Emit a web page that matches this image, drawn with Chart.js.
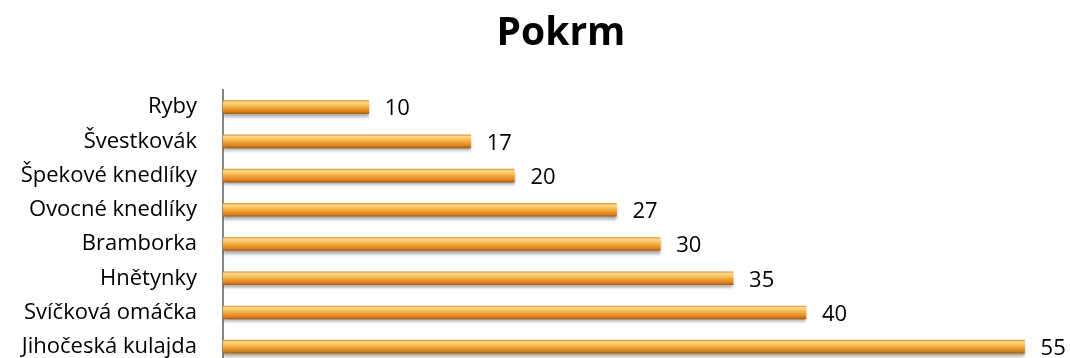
<!DOCTYPE html>
<html>
<head>
<meta charset="utf-8">
<script src="https://cdn.jsdelivr.net/npm/chart.js@4/dist/chart.umd.min.js"></script>
<style>
  html, body { margin: 0; padding: 0; background: #fff; overflow: hidden; }
  canvas { display: block; }
</style>
</head>
<body>
<!-- taller than the window: the y scale keeps half a label + tick padding free below the last bar -->
<canvas id="pokrm-chart" width="1070" height="403"></canvas>
<script>
const categories = ["Ryby", "Švestkovák", "Špekové knedlíky", "Ovocné knedlíky",
  "Bramborka", "Hnětynky", "Svíčková omáčka", "Jihočeská kulajda"];
const counts = [10, 17, 20, 27, 30, 35, 40, 55];
const chartTitle = "Pokrm";

const FONT = "'Open Sans', 'DejaVu Sans', sans-serif";
const BAR_H = 13;

// orange tube look: light band near the top, darker toward the bottom
function barFill(ctx) {
  const chart = ctx.chart;
  const y = chart.scales.y;
  if (!y || ctx.dataIndex === undefined) return '#f0a030';
  const cy = y.getPixelForValue(ctx.dataIndex);
  if (!Number.isFinite(cy)) return '#f0a030';
  const g = chart.ctx.createLinearGradient(0, cy - BAR_H / 2, 0, cy + BAR_H / 2);
  g.addColorStop(0, '#e0902e');
  g.addColorStop(0.12, '#fbd88a');
  g.addColorStop(0.3, '#fcc965');
  g.addColorStop(0.55, '#f1a53a');
  g.addColorStop(0.85, '#d9801f');
  g.addColorStop(1, '#a95d16');
  return g;
}

const barShadow = {
  id: 'barShadow',
  beforeDatasetsDraw(chart) {
    const c = chart.ctx;
    c.save();
    c.shadowColor = 'rgba(0,0,0,0.35)';
    c.shadowOffsetY = 3;
    c.shadowOffsetX = 0;
    c.shadowBlur = 3;
  },
  afterDatasetsDraw(chart) {
    chart.ctx.restore();
  }
};

// numbers to the right of each bar + the heading
const textLayer = {
  id: 'textLayer',
  afterDraw(chart) {
    const c = chart.ctx;
    const meta = chart.getDatasetMeta(0);
    c.save();
    c.fillStyle = '#000';
    c.font = "22px " + FONT;
    c.textBaseline = 'middle';
    c.textAlign = 'left';
    meta.data.forEach((bar, i) => {
      c.fillText(String(counts[i]), bar.x + 16, bar.y + 2);
    });
    c.font = "bold 39px " + FONT;
    c.textAlign = 'center';
    c.textBaseline = 'alphabetic';
    c.fillText(chartTitle, 561, 45);
    c.restore();
  }
};

new Chart(document.getElementById("pokrm-chart"), {
  type: 'bar',
  data: {
    labels: categories,
    datasets: [{
      label: chartTitle,
      data: counts,
      backgroundColor: barFill,
      borderWidth: 0,
      barThickness: BAR_H
    }]
  },
  options: {
    indexAxis: 'y',
    responsive: false,
    animation: false,
    layout: { padding: { left: 0, right: 9, top: 90, bottom: 0 } },
    plugins: {
      legend: { display: false },
      tooltip: { enabled: false },
      title: { display: false }
    },
    scales: {
      x: { display: false, min: 0, max: 57.5 },
      y: {
        grid: { display: false, drawTicks: false },
        border: { display: true, color: '#868686', width: 2 },
        ticks: { color: '#000', font: { family: FONT, size: 22 }, padding: 26 },
        afterFit(scale) { scale.width = 223; }
      }
    }
  },
  plugins: [barShadow, textLayer]
});
</script>
</body>
</html>
